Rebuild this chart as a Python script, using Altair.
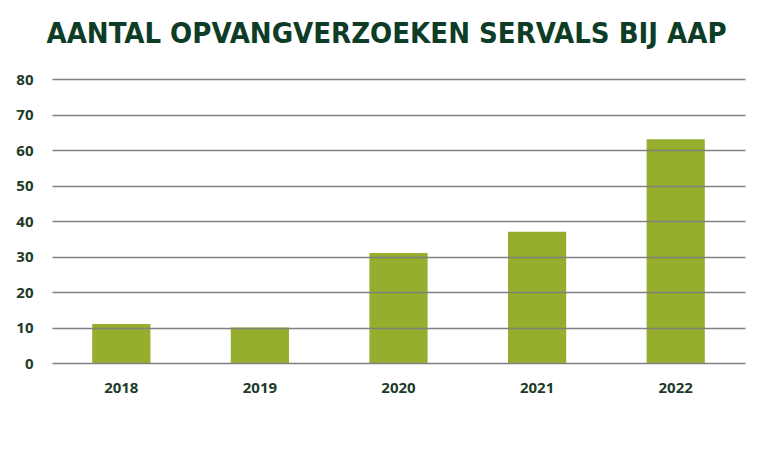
import altair as alt
import pandas as pd

years = ["2018", "2019", "2020", "2021", "2022"]
requests = [11, 10, 31, 37, 63]
y_ticks = [0, 10, 20, 30, 40, 50, 60, 70, 80]

df = pd.DataFrame({"jaar": years, "aantal": requests})

text_color = "#1d3b2a"

chart = alt.Chart(df).mark_bar(color="#95ae2e").encode(
    x=alt.X("jaar:N", sort=years,
            scale=alt.Scale(paddingInner=0.58, paddingOuter=0.29),
            axis=alt.Axis(title=None, labelAngle=0, domain=False, ticks=False,
                          labelPadding=17, labelFontSize=15, labelFontWeight="bold",
                          labelFont="Open Sans", labelColor=text_color)),
    y=alt.Y("aantal:Q", scale=alt.Scale(domain=[0, 80], nice=False),
            axis=alt.Axis(title=None, values=y_ticks, domain=False, ticks=False,
                          grid=True, gridColor="#808080", gridWidth=1.5,
                          labelPadding=19, labelFontSize=15, labelFontWeight="bold",
                          labelFont="Open Sans", labelColor=text_color, zindex=1)),
).properties(
    width=693, height=284,
    autosize=alt.AutoSizeParams(type="none"),
    padding={"left": 44, "top": 71, "right": 17, "bottom": 60},
    title=alt.TitleParams(
        text="AANTAL OPVANGVERZOEKEN SERVALS BIJ AAP",
        font="DejaVu Sans Condensed", fontSize=29, fontWeight="bold",
        color="#0e3d27", anchor="middle", offset=23, dx=-12,
    ),
).configure_view(stroke=None)

chart.save("out.html", embed_options={"renderer": "svg", "actions": False})
